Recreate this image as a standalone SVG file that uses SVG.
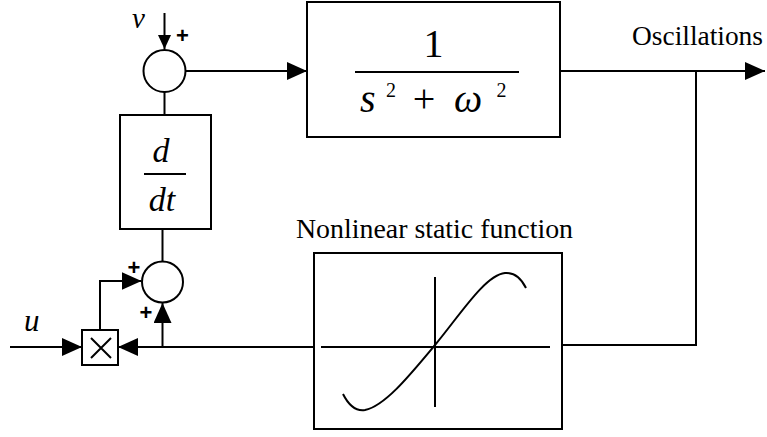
<svg xmlns="http://www.w3.org/2000/svg" width="767" height="437" viewBox="0 0 767 437">
<defs>
<style>
.ln{fill:none;stroke:#000;stroke-width:2}
.bx{fill:#fff;stroke:#000;stroke-width:2}
.t{font-family:"Liberation Serif","Times New Roman",serif;fill:#000}
.i{font-style:italic}
.p{font-family:"Liberation Sans",Arial,sans-serif;font-size:22px;font-weight:bold;fill:#000;text-anchor:middle}
</style>
<marker id="arr" markerWidth="20" markerHeight="18" refX="20" refY="9" orient="auto" markerUnits="userSpaceOnUse">
<path d="M0,0 L20,9 L0,18 z" fill="#000"/>
</marker>
<marker id="arrS" markerWidth="14" markerHeight="13" refX="14" refY="6.5" orient="auto" markerUnits="userSpaceOnUse">
<path d="M0,0 L14,6.5 L0,13 z" fill="#000"/>
</marker>
</defs>
<rect width="767" height="437" fill="#fff"/>
<g id="connectors">
<line class="ln" x1="164.5" y1="13" x2="164.5" y2="49" marker-end="url(#arrS)"/>
<line class="ln" x1="185.5" y1="71" x2="307" y2="71" marker-end="url(#arr)"/>
<line class="ln" x1="164.5" y1="92" x2="164.5" y2="115"/>
<line class="ln" x1="162.5" y1="229" x2="162.5" y2="261"/>
<line class="ln" x1="560" y1="71" x2="765" y2="71" marker-end="url(#arr)"/>
<polyline class="ln" points="696,71 696,345 562,345"/>
<line class="ln" x1="314" y1="347" x2="118" y2="347" marker-end="url(#arr)"/>
<line class="ln" x1="162.5" y1="347" x2="162.5" y2="303" marker-end="url(#arr)"/>
<line class="ln" x1="10" y1="347" x2="82" y2="347" marker-end="url(#arr)"/>
<polyline class="ln" points="100,330 100,281 141.5,281" marker-end="url(#arr)"/>
</g>
<g id="sum1">
<circle class="bx" cx="164.5" cy="71" r="21"/>
</g>
<g id="transfer">
<rect class="bx" x="307" y="2" width="253" height="135"/>
<line class="ln" x1="355" y1="72" x2="519" y2="72"/>
<text class="t" x="433.5" y="57" font-size="40" text-anchor="middle">1</text>
<text class="t i" x="360" y="112" font-size="40">s</text>
<text class="t" x="386" y="97" font-size="20">2</text>
<text class="t" x="424" y="112" font-size="40" text-anchor="middle">+</text>
<text class="t i" x="454" y="112" font-size="40">ω</text>
<text class="t" x="496.5" y="97" font-size="20">2</text>
</g>
<g id="deriv">
<rect class="bx" x="120" y="115" width="91" height="114"/>
<line class="ln" x1="144" y1="174" x2="186" y2="174"/>
<text class="t i" x="161" y="162" font-size="34" text-anchor="middle">d</text>
<text class="t i" x="162" y="211" font-size="34" text-anchor="middle">dt</text>
</g>
<g id="sum2">
<circle class="bx" cx="162.5" cy="282" r="20.5"/>
</g>
<g id="mult">
<rect class="bx" x="82" y="330" width="36" height="35"/>
<path class="ln" d="M91,338 L111,358 M111,338 L91,358" stroke-width="1.5"/>
</g>
<g id="nonlinear">
<rect class="bx" x="314" y="253" width="248" height="176"/>
<line class="ln" x1="321" y1="347" x2="550" y2="347"/>
<line class="ln" x1="435" y1="277" x2="435" y2="407"/>
<path class="ln" d="M343,394 Q352,412 365,410 C385,406 410,375 435,345 C460,315 485,275 505,273 Q518,272 526,288"/>
</g>
<g id="labels">
<text class="t" x="296" y="238" font-size="27" textLength="277" lengthAdjust="spacingAndGlyphs">Nonlinear static function</text>
<text class="t" x="632" y="45" font-size="27" textLength="131" lengthAdjust="spacingAndGlyphs">Oscillations</text>
<text class="t i" x="24" y="331" font-size="31">u</text>
<text class="t i" x="132" y="28" font-size="29">v</text>
<text class="p" x="182.5" y="43">+</text>
<text class="p" x="134" y="275">+</text>
<text class="p" x="146" y="320">+</text>
</g>
</svg>
